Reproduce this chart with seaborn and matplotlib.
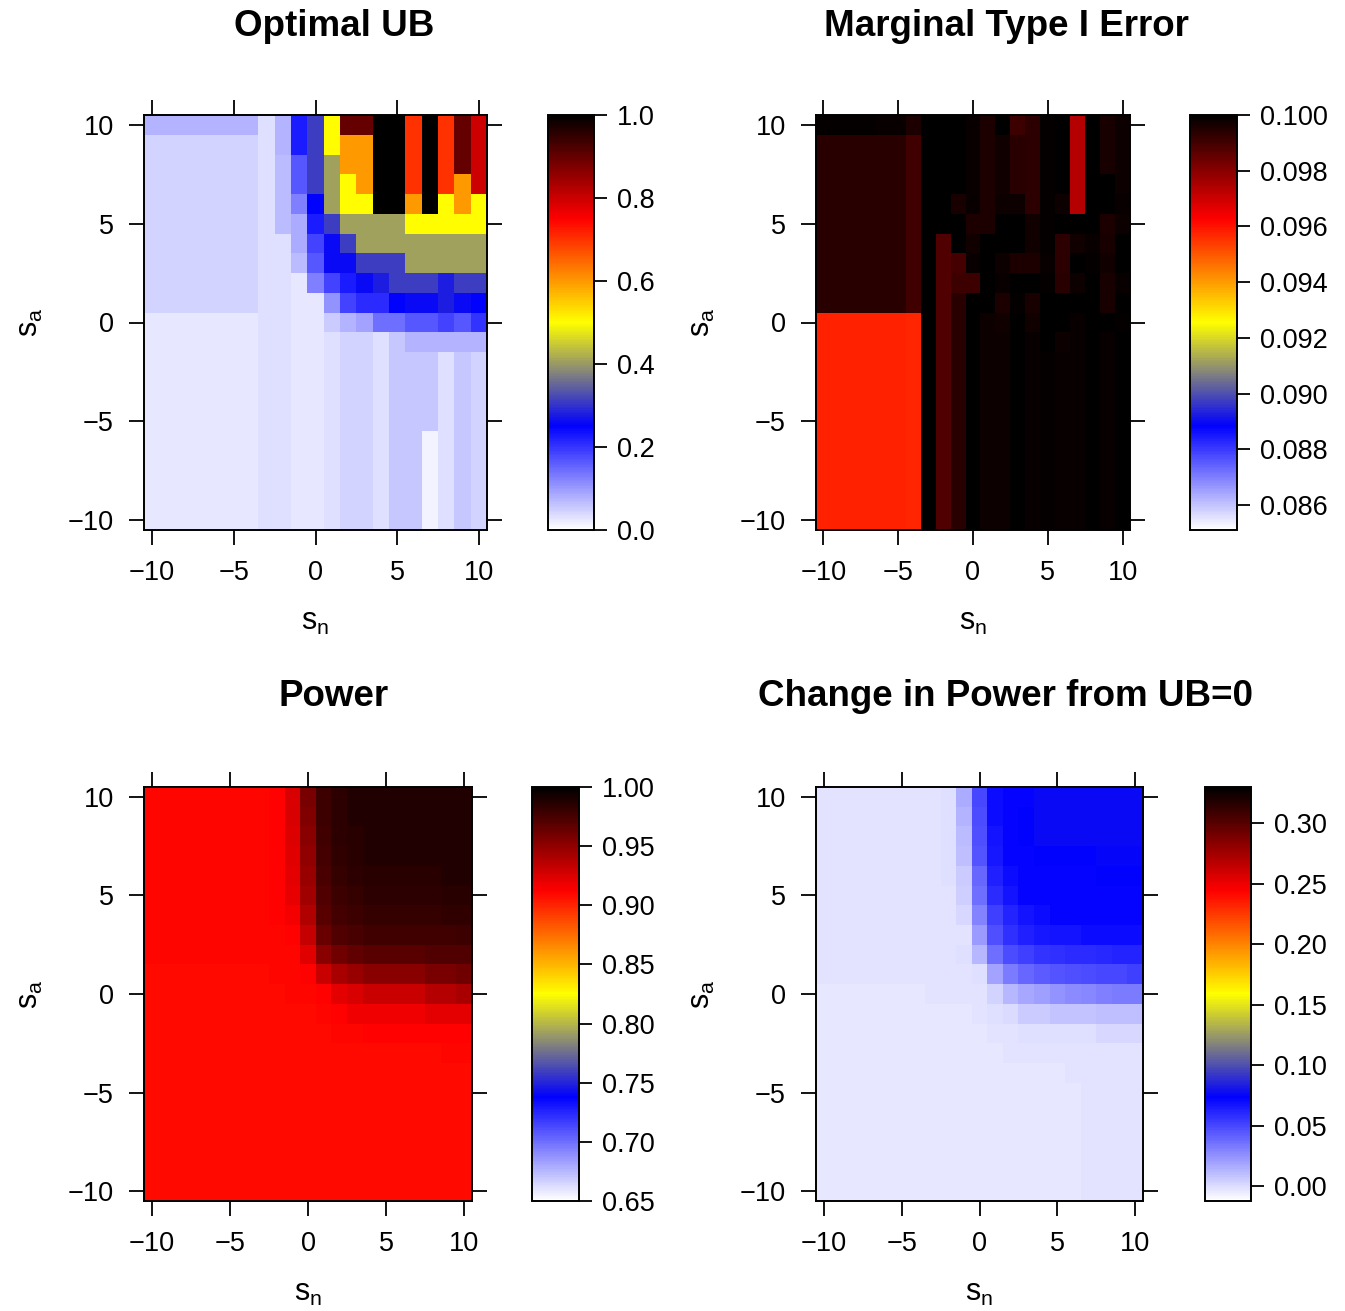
# Optimal UB / type I error / power heatmaps over (s_n, s_a)

import pandas as pd
import seaborn as sns
import matplotlib.pyplot as plt
from matplotlib.colors import LinearSegmentedColormap

plt.rcParams['font.family'] = ['Liberation Sans', 'DejaVu Sans']
plt.rcParams['mathtext.default'] = 'regular'

sn = list(range(-10, 11))          # columns, left -> right
sa = list(range(10, -11, -1))      # rows, top -> bottom

# ---------------- Optimal UB (rows sa = 10 ... -10) ----------------
ub_lo = [0.026] * 7 + [0.035, 0.035, 0.026, 0.026, 0.035, 0.045, 0.045, 0.035, 0.058, 0.058, 0.058, 0.035, 0.058, 0.045]
ub_lo2 = [0.026] * 7 + [0.035, 0.035, 0.026, 0.026, 0.035, 0.045, 0.045, 0.035, 0.058, 0.058, 0.012, 0.035, 0.058, 0.045]
ub_rows = [
    [0.078] * 7 + [0.035, 0.078, 0.225, 0.31, 0.50, 0.90, 0.90, 1.0, 1.0, 0.70, 1.0, 0.70, 0.90, 0.80],
    [0.045] * 7 + [0.035, 0.078, 0.225, 0.31, 0.50, 0.60, 0.60, 1.0, 1.0, 0.70, 1.0, 0.70, 0.90, 0.80],
    [0.045] * 7 + [0.035, 0.068, 0.167, 0.31, 0.41, 0.60, 0.60, 1.0, 1.0, 0.70, 1.0, 0.70, 0.90, 0.80],
    [0.045] * 7 + [0.035, 0.068, 0.167, 0.31, 0.41, 0.50, 0.60, 1.0, 1.0, 0.70, 1.0, 0.70, 0.60, 0.80],
    [0.045] * 7 + [0.035, 0.068, 0.125, 0.25, 0.41, 0.50, 0.50, 1.0, 1.0, 0.60, 1.0, 0.50, 0.60, 0.50],
    [0.045] * 7 + [0.035, 0.068, 0.085, 0.225, 0.31, 0.41, 0.41, 0.41, 0.41, 0.50, 0.50, 0.50, 0.50, 0.50],
    [0.045] * 7 + [0.035, 0.035, 0.085, 0.187, 0.26, 0.31, 0.41, 0.41, 0.41, 0.41, 0.41, 0.41, 0.41, 0.41],
    [0.045] * 7 + [0.035, 0.035, 0.068, 0.167, 0.26, 0.26, 0.31, 0.31, 0.31, 0.41, 0.41, 0.41, 0.41, 0.41],
    [0.045] * 7 + [0.035, 0.035, 0.024, 0.125, 0.187, 0.225, 0.26, 0.28, 0.31, 0.31, 0.31, 0.28, 0.31, 0.31],
    [0.045] * 7 + [0.035, 0.035, 0.024, 0.024, 0.109, 0.187, 0.21, 0.21, 0.25, 0.26, 0.26, 0.28, 0.26, 0.25],
    [0.026] * 7 + [0.035, 0.035, 0.026, 0.026, 0.054, 0.078, 0.093, 0.142, 0.142, 0.167, 0.167, 0.187, 0.167, 0.203],
    [0.026] * 7 + [0.035, 0.035, 0.026, 0.026, 0.035, 0.045, 0.045, 0.035, 0.058, 0.078, 0.078, 0.078, 0.078, 0.078],
    ub_lo, ub_lo, ub_lo, ub_lo,
    ub_lo2, ub_lo2, ub_lo2, ub_lo2, ub_lo2,
]

# ---------------- Marginal type I error ----------------
t1_top = [0.09941] * 4 + [0.09936, 0.09936, 0.09906]
t1_red = [0.0958] * 6 + [0.09575]
t1_rows = [
    [0.09993] * 4 + [0.09988, 0.09985, 0.09956] + [0.09995, 0.09995, 0.09995, 0.09985, 0.09956, 0.1, 0.09912, 0.09934, 0.09993, 0.1, 0.09737, 0.1, 0.09963, 0.09978],
    t1_top + [0.09995, 0.09995, 0.09995, 0.09985, 0.09956, 0.09971, 0.09941, 0.09934, 0.09993, 0.1, 0.09737, 0.1, 0.09963, 0.09978],
    t1_top + [0.09995, 0.09995, 0.09995, 0.09985, 0.09956, 0.09971, 0.09941, 0.09934, 0.09993, 0.1, 0.09737, 0.1, 0.09963, 0.09978],
    t1_top + [0.09995, 0.09995, 0.09995, 0.09985, 0.09956, 0.09971, 0.09941, 0.09934, 0.09993, 0.1, 0.09737, 0.1, 0.1, 0.09978],
    t1_top + [0.09995, 0.09995, 0.09963, 0.09985, 0.09956, 0.09978, 0.09978, 0.09934, 0.09993, 0.09978, 0.09737, 0.1, 0.1, 0.09985],
    t1_top + [0.09995, 0.09995, 0.09995, 0.09956, 0.09956, 0.1, 0.1, 0.09971, 0.09993, 0.1, 0.1, 0.1, 0.09956, 0.09978],
    t1_top + [0.09995, 0.09883, 0.09995, 0.09971, 0.1, 0.1, 0.1, 0.09971, 0.09993, 0.09934, 0.09971, 0.09985, 0.09963, 0.1],
    t1_top + [0.09995, 0.09883, 0.09898, 0.09985, 0.1, 0.09978, 0.09956, 0.09956, 0.09985, 0.09934, 0.1, 0.09993, 0.09971, 0.1],
    t1_top + [0.09995, 0.09883, 0.09912, 0.09912, 0.1, 0.09985, 0.1, 0.1, 0.09993, 0.09941, 0.09978, 0.1, 0.09963, 0.09985],
    t1_top + [0.09995, 0.09883, 0.09941, 0.1, 0.1, 0.09956, 0.09993, 0.09963, 0.1, 0.1, 0.1, 0.1, 0.09963, 0.1],
    t1_red + [0.09995, 0.09883, 0.09941, 0.1, 0.09978, 0.09971, 0.1, 0.09971, 0.1, 0.1, 0.09985, 0.1, 0.1, 0.09993],
    t1_red + [0.09995, 0.09883, 0.09941, 0.1, 0.09978, 0.09978, 0.1, 0.09985, 0.1, 0.09978, 0.09985, 0.1, 0.09988, 0.1],
] + [t1_red + [0.09995, 0.09883, 0.09941, 0.1, 0.09978, 0.09978, 0.1, 0.09985, 0.09993, 0.09988, 0.09985, 0.1, 0.09988, 0.1]] * 9

# ---------------- Power ----------------
pw_rows = [
    [0.9104] * 8 + [0.9125, 0.9252, 0.9588, 0.9794, 0.9849, 0.9877, 0.9886, 0.9886, 0.9886, 0.9886, 0.9890, 0.9890, 0.9890],
    [0.9104] * 8 + [0.9125, 0.9252, 0.9561, 0.9794, 0.9849, 0.9877, 0.9886, 0.9886, 0.9886, 0.9886, 0.9890, 0.9890, 0.9890],
    [0.9104] * 8 + [0.9125, 0.9245, 0.9533, 0.9780, 0.9842, 0.9863, 0.9883, 0.9883, 0.9883, 0.9883, 0.9890, 0.9890, 0.9890],
    [0.9104] * 8 + [0.9125, 0.9231, 0.9506, 0.9767, 0.9835, 0.9856, 0.9877, 0.9877, 0.9877, 0.9877, 0.9877, 0.9877, 0.9883],
    [0.9104] * 8 + [0.9125, 0.9218, 0.9479, 0.9753, 0.9822, 0.9842, 0.9863, 0.9863, 0.9863, 0.9863, 0.9863, 0.9877, 0.9877],
    [0.9104] * 8 + [0.9118, 0.9197, 0.9451, 0.9726, 0.9794, 0.9822, 0.9849, 0.9849, 0.9849, 0.9849, 0.9849, 0.9863, 0.9863],
    [0.9104] * 8 + [0.9118, 0.9163, 0.9396, 0.9698, 0.9767, 0.9794, 0.9822, 0.9822, 0.9822, 0.9822, 0.9822, 0.9835, 0.9835],
    [0.9098] * 7 + [0.9104] + [0.9111, 0.9125, 0.9328, 0.9643, 0.9726, 0.9753, 0.9780, 0.9780, 0.9780, 0.9780, 0.9780, 0.9780, 0.9794],
    [0.9098] * 8 + [0.9104, 0.9111, 0.9231, 0.9533, 0.9616, 0.9671, 0.9698, 0.9698, 0.9698, 0.9698, 0.9726, 0.9726, 0.9726],
    [0.9095] * 8 + [0.9098, 0.9104, 0.9125, 0.9314, 0.9417, 0.9472, 0.9533, 0.9533, 0.9533, 0.9533, 0.9588, 0.9588, 0.9616],
    [0.9091] * 8 + [0.9095, 0.9098, 0.9104, 0.9125, 0.9218, 0.9259, 0.9314, 0.9314, 0.9314, 0.9314, 0.9382, 0.9382, 0.9424],
    [0.9088] * 8 + [0.9091, 0.9091, 0.9095, 0.9111, 0.9125, 0.9176, 0.9176, 0.9176, 0.9176, 0.9176, 0.9218, 0.9218, 0.9218],
    [0.9088] * 8 + [0.9088, 0.9088, 0.9091, 0.9095, 0.9104, 0.9104, 0.9118, 0.9118, 0.9118, 0.9118, 0.9118, 0.9125, 0.9125],
    [0.9085] * 19 + [0.9111, 0.9111],
] + [[0.9084] * 21] * 7

# ---------------- Change in power from UB=0 ----------------
dp_rows = [
    [-0.0016] * 8 + [-0.0005, 0.0172, 0.0507, 0.0695, 0.0735, 0.0735, 0.0769, 0.0769, 0.0769, 0.0769, 0.0769, 0.0769, 0.0769],
    [-0.0016] * 8 + [-0.0005, 0.0145, 0.0494, 0.0695, 0.0735, 0.0748, 0.0769, 0.0769, 0.0769, 0.0769, 0.0769, 0.0769, 0.0769],
    [-0.0016] * 8 + [-0.0005, 0.0118, 0.0480, 0.0681, 0.0735, 0.0748, 0.0762, 0.0762, 0.0762, 0.0762, 0.0762, 0.0762, 0.0762],
    [-0.0016] * 8 + [-0.0005, 0.0105, 0.0467, 0.0668, 0.0722, 0.0735, 0.0748, 0.0748, 0.0748, 0.0748, 0.0755, 0.0755, 0.0755],
    [-0.0016] * 8 + [-0.0010, 0.0064, 0.0400, 0.0641, 0.0708, 0.0735, 0.0735, 0.0735, 0.0735, 0.0735, 0.0740, 0.0740, 0.0740],
    [-0.0016] * 8 + [-0.0016, 0.0051, 0.0373, 0.0601, 0.0681, 0.0722, 0.0735, 0.0735, 0.0735, 0.0735, 0.0735, 0.0735, 0.0735],
    [-0.0016] * 8 + [-0.0016, 0.0024, 0.0306, 0.0534, 0.0628, 0.0681, 0.0708, 0.0722, 0.0735, 0.0735, 0.0735, 0.0735, 0.0735],
    [-0.0016] * 8 + [-0.0016, -0.0016, 0.0225, 0.0480, 0.0587, 0.0641, 0.0668, 0.0681, 0.0681, 0.0695, 0.0708, 0.0708, 0.0708],
    [-0.0016] * 8 + [-0.0016, -0.0003, 0.0131, 0.0373, 0.0494, 0.0534, 0.0574, 0.0587, 0.0601, 0.0601, 0.0614, 0.0628, 0.0628],
    [-0.0016] * 8 + [-0.0016, -0.0016, -0.0003, 0.0199, 0.0333, 0.0400, 0.0440, 0.0467, 0.0480, 0.0494, 0.0507, 0.0507, 0.0534],
    [-0.0030] * 7 + [-0.0016, -0.0016, -0.0016, -0.0016, 0.0038, 0.0131, 0.0185, 0.0212, 0.0252, 0.0279, 0.0292, 0.0319, 0.0333, 0.0333],
    [-0.0030] * 10 + [-0.0016, -0.0003, 0.0011, 0.0064, 0.0064, 0.0091, 0.0091, 0.0091, 0.0105, 0.0105, 0.0105],
    [-0.0030] * 11 + [-0.0016, -0.0016, -0.0003, -0.0003, -0.0003, -0.0003, -0.0003, 0.0024, 0.0024, 0.0024],
    [-0.0030] * 12 + [-0.0016] * 9,
    [-0.0030] * 16 + [-0.0016] * 5,
] + [[-0.0030] * 17 + [-0.0016] * 4] * 6

W, H = 1345, 1311
fig = plt.figure(figsize=(W / 100, H / 100), dpi=100)
cmap = LinearSegmentedColormap.from_list('ubmap', ['white', 'blue', 'yellow', 'red', 'black'])


def px_axes(l, r, t, b):
    return fig.add_axes([l / W, 1 - b / H, (r - l) / W, (b - t) / H])


def minus(v):
    return str(v).replace('-', '\u2212')


def panel(rows, lo, hi, cticks, cfmt, heat_box, cbar_box, title, cx, ty):
    df = pd.DataFrame(rows, index=sa, columns=sn)
    ax = px_axes(*heat_box)
    cax = px_axes(*cbar_box)
    sns.heatmap(df, ax=ax, cbar_ax=cax, cmap=cmap, vmin=lo, vmax=hi,
                xticklabels=False, yticklabels=False)
    for s in ax.spines.values():
        s.set_visible(True)
        s.set_linewidth(1.4)
    ticks = [-10, -5, 0, 5, 10]
    ax.set_xticks([sn.index(v) + 0.5 for v in ticks])
    ax.set_xticklabels([minus(v) for v in ticks])
    ax.set_yticks([sa.index(v) + 0.5 for v in ticks])
    ax.set_yticklabels([minus(v) for v in ticks], rotation=0)
    ax.tick_params(direction='out', length=10.8, width=1.3, top=True, right=True,
                   labeltop=False, labelright=False, labelsize=19.5)
    ax.tick_params(axis='x', pad=10.5)
    ax.tick_params(axis='y', pad=11)
    ax.set_xlabel('')
    ax.set_ylabel('')

    cb = ax.collections[0].colorbar
    cb.set_ticks(cticks)
    cb.set_ticklabels([cfmt.format(t) for t in cticks])
    cb.outline.set_linewidth(1.4)
    cax.tick_params(direction='out', length=9.4, width=1.3, labelsize=19.5, pad=7)

    l, r, t, b = heat_box
    fig.text(cx / W, 1 - ty / H, title, ha='center', va='center', fontsize=26.5, fontweight='bold')
    fig.text((l + r) / 2 / W, 1 - (b + 92) / H, '$s_n$', ha='center', va='center', fontsize=22)
    fig.text((l - 114) / W, 1 - (t + b) / 2 / H, '$s_a$', ha='center', va='center', fontsize=22, rotation=90)


panel(ub_rows, 0.0, 1.0, [0.0, 0.2, 0.4, 0.6, 0.8, 1.0], '{:.1f}',
      (144, 487, 115, 530), (548, 594, 115, 530), 'Optimal UB', 334, 26)
panel(t1_rows, 0.0851, 0.1000, [0.086, 0.088, 0.090, 0.092, 0.094, 0.096, 0.098, 0.100], '{:.3f}',
      (816, 1130, 115, 530), (1190, 1237, 115, 530), 'Marginal Type I Error', 1006, 26)
panel(pw_rows, 0.65, 1.0, [0.65, 0.70, 0.75, 0.80, 0.85, 0.90, 0.95, 1.00], '{:.2f}',
      (144, 472, 787, 1201), (532, 579, 787, 1201), 'Power', 334, 697)
panel(dp_rows, -0.012, 0.330, [0.00, 0.05, 0.10, 0.15, 0.20, 0.25, 0.30], '{:.2f}',
      (816, 1143, 787, 1201), (1205, 1251, 787, 1201), 'Change in Power from UB=0', 1006, 697)

fig.savefig('out.png', dpi=100)
